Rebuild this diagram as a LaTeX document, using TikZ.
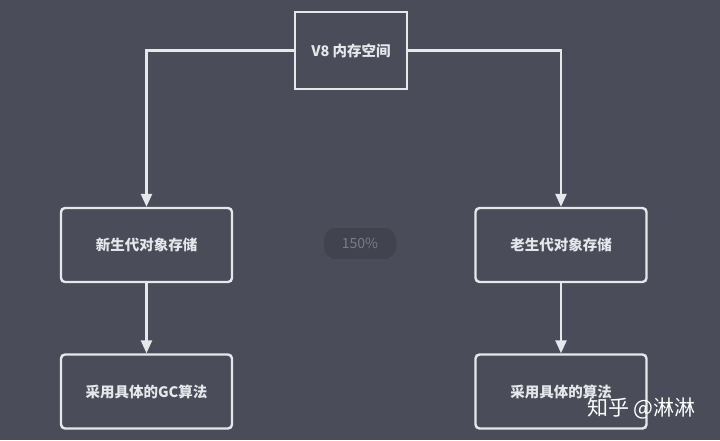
\documentclass[tikz,border=0pt]{standalone}
\usepackage{fontspec}
\setmainfont{Noto Sans CJK SC}
\usetikzlibrary{arrows.meta}

\definecolor{bgcol}{HTML}{4A4D59}
\definecolor{linecol}{HTML}{E6E7EA}
\definecolor{pillcol}{HTML}{41444E}
\definecolor{pilltext}{HTML}{7A7D87}

\tikzset{
  box/.style={draw=linecol, line width=2.4pt, text=linecol, font=\bfseries\fontsize{14.5}{16}\selectfont,
    minimum width=171pt, minimum height=74pt, rounded corners=4pt, inner sep=0pt},
  link/.style={draw=linecol, line width=2.4pt, -{Triangle[width=11pt,length=13pt]}},
}

\begin{document}
\begin{tikzpicture}[x=1pt, y=-1pt]
\fill[bgcol] (0,0) rectangle (720,440);

\node[box, rounded corners=0pt, minimum width=112pt, minimum height=77pt] (space) at (351, 50.5) {V8 内存空间};
\node[box] (young) at (146.5, 245) {新生代对象存储};
\node[box] (old) at (561, 245) {老生代对象存储};
\node[box] (younggc) at (146.5, 391.5) {采用具体的GC算法};
\node[box] (oldgc) at (561, 391.5) {采用具体的算法};

% zoom label
\node[fill=pillcol, text=pilltext, rounded corners=12pt, minimum width=72pt, minimum height=31pt,
  inner sep=0pt, font=\fontsize{14}{16}\selectfont] (zoom) at (360, 243.5) {150\%};

\draw[link] (space.west) -| (young.north);
\draw[link] (space.east) -| (old.north);
\draw[link] (young.south) -- (younggc.north);
\draw[link] (old.south) -- (oldgc.north);

\node[text=white, font=\fontsize{21}{23}\selectfont, anchor=west, inner sep=0pt] (mark) at (587, 408) {知乎 @淋淋};
\end{tikzpicture}
\end{document}
